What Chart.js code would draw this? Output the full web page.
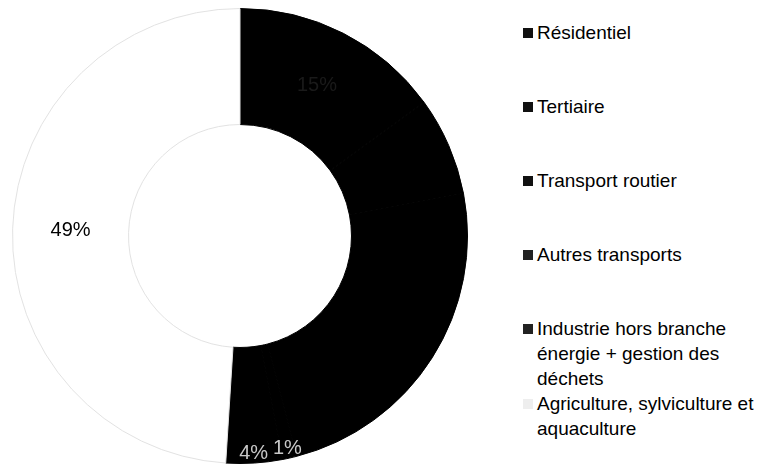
<!DOCTYPE html>
<html>
<head>
<meta charset="utf-8">
<script src="https://cdn.jsdelivr.net/npm/chart.js@4"></script>
<style>
    html, body { margin: 0; padding: 0; background: #fff; }
    body { width: 766px; height: 473px; position: relative; overflow: hidden; font-family: "Liberation Sans", Arial, sans-serif; }
    #chartBox { position: absolute; left: 0; top: 0; width: 480px; height: 473px; }
    #legend { position: absolute; left: 523px; top: 20px; width: 243px; }
    .item { position: relative; padding-left: 14px; font-size: 19px; line-height: 25px; color: #000; margin-bottom: 49px; }
    .item.tight { margin-bottom: 0; }
    .box { position: absolute; left: 0; top: 8px; width: 10px; height: 10px; }
</style>
</head>
<body>
<div id="chartBox"><canvas id="pie"></canvas></div>
<div id="legend"></div>
<script>
// Répartition par secteur (%)
const categories = [
    'Résidentiel',
    'Tertiaire',
    'Transport routier',
    'Autres transports',
    'Industrie hors branche énergie + gestion des déchets',
    'Agriculture, sylviculture et aquaculture'
];
const shares = [15, 7, 24, 1, 4, 49];

// scan noir et blanc : tout sombre sauf l'agriculture
const sliceColors = ['#000', '#000', '#000', '#000', '#000', '#fff'];
const edgeColors = ['#000', '#000', '#000', '#000', '#000', '#e2e2e2'];
const boxColors = ['#111', '#111', '#111', '#222', '#222', '#eee'];
const labelColors = ['#1a1a1a', '#000', '#000', '#c8c8c8', '#c8c8c8', '#000'];

// étiquettes de pourcentage
const pctLabels = {
    id: 'pctLabels',
    afterDatasetsDraw(chart) {
        const ctx = chart.ctx;
        const arcs = chart.getDatasetMeta(0).data;
        ctx.save();
        ctx.font = '20px "Liberation Sans", Arial, sans-serif';
        ctx.textAlign = 'center';
        ctx.textBaseline = 'middle';
        arcs.forEach((arc, i) => {
            const p = arc.getProps(['x', 'y', 'startAngle', 'endAngle', 'innerRadius', 'outerRadius'], true);
            const mid = (p.startAngle + p.endAngle) / 2;
            // les petites parts sont écrites près du bord extérieur
            const r = shares[i] < 5 ? p.outerRadius - 10 : (p.innerRadius + p.outerRadius) / 2;
            ctx.fillStyle = labelColors[i];
            ctx.fillText(shares[i] + '%', p.x + Math.cos(mid) * r, p.y + Math.sin(mid) * r);
        });
        ctx.restore();
    }
};

function renderLegend() {
    const box = document.getElementById('legend');
    let html = '';
    categories.forEach((name, i) => {
        const cls = i === 4 ? 'item tight' : 'item';
        html += `<div class="${cls}"><span class="box" style="background:${boxColors[i]}"></span>${name}</div>`;
    });
    box.innerHTML = html;
}

function renderChart() {
    const ctx = document.getElementById('pie').getContext('2d');
    new Chart(ctx, {
        type: 'doughnut',
        data: {
            labels: categories,
            datasets: [{
                data: shares,
                backgroundColor: sliceColors,
                borderColor: edgeColors,
                borderWidth: 1
            }]
        },
        options: {
            responsive: true,
            maintainAspectRatio: false,
            animation: false,
            cutout: '49%',
            layout: { padding: { top: 8, bottom: 9, left: 12, right: 12 } },
            plugins: {
                legend: { display: false },
                tooltip: { enabled: false }
            }
        },
        plugins: [pctLabels]
    });
}

renderLegend();
renderChart();
</script>
</body>
</html>
